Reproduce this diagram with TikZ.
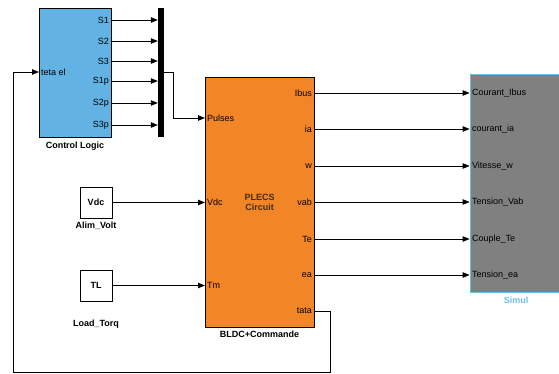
\documentclass[tikz,border=0pt]{standalone}
\usepackage{fontspec}
\setmainfont{Liberation Sans}
\usetikzlibrary{arrows.meta, positioning}

\definecolor{clblue}{RGB}{98,178,228}
\definecolor{plorange}{RGB}{242,134,38}
\definecolor{simgray}{RGB}{128,128,128}
\definecolor{simcyan}{RGB}{110,190,225}

\begin{document}
\begin{tikzpicture}[x=1pt, y=-1pt, font=\fontsize{9}{10}\selectfont,
  blk/.style={draw, line width=0.8pt, inner sep=0pt},
  sig/.style={line width=0.8pt, -{Triangle[length=7pt,width=5.5pt]}},
  lbl/.style={font=\fontsize{9}{10}\selectfont\bfseries}]
\useasboundingbox (0,0) rectangle (559,374);
% blocks
\node[blk, fill=clblue, minimum width=72pt, minimum height=129pt] (CL) at (75,72.5) {};
\node[fill=black, inner sep=0pt, minimum width=6pt, minimum height=129pt] (MUX) at (161,72.5) {};
\node[blk, fill=plorange, minimum width=109pt, minimum height=250pt] (PLECS) at (259.5,202) {};
\node[blk, lbl, minimum width=32pt, minimum height=31pt] (VDC) at (96,202.5) {Vdc};
\node[blk, lbl, minimum width=32pt, minimum height=31pt] (TL) at (96,285.5) {TL};
\node[blk, draw=simcyan, fill=simgray, minimum width=92pt, minimum height=218pt] (SIM) at (516,183) {};
\node[lbl, align=center, text=black!65!brown] at (PLECS.center) {PLECS\\Circuit};
% block names
\node[lbl, below=1pt of CL] {Control Logic};
\node[lbl, below=0pt of VDC] {Alim\_Volt};
\node[lbl, below=15pt of TL] {Load\_Torq};
\node[lbl, below=0pt of PLECS] {BLDC+Commande};
\node[lbl, text=simcyan, below=1pt of SIM] {Simul};
% control logic ports
\coordinate (S1) at (111,20);
\coordinate (S2) at (111,41);
\coordinate (S3) at (111,61);
\coordinate (S1p) at (111,81);
\coordinate (S2p) at (111,103);
\coordinate (S3p) at (111,125);
\coordinate (TH) at (39,72);
\node[left, inner sep=2pt] at (S1) {S1};
\node[left, inner sep=2pt] at (S2) {S2};
\node[left, inner sep=2pt] at (S3) {S3};
\node[left, inner sep=2pt] at (S1p) {S1p};
\node[left, inner sep=2pt] at (S2p) {S2p};
\node[left, inner sep=2pt] at (S3p) {S3p};
\node[right, inner sep=2pt] at (TH) {teta el};
\draw[sig] (S1) -- (S1 -| MUX.west);
\draw[sig] (S2) -- (S2 -| MUX.west);
\draw[sig] (S3) -- (S3 -| MUX.west);
\draw[sig] (S1p) -- (S1p -| MUX.west);
\draw[sig] (S2p) -- (S2p -| MUX.west);
\draw[sig] (S3p) -- (S3p -| MUX.west);
% plecs inputs
\coordinate (PUL) at (205,118);
\coordinate (VIN) at (205,202.5);
\coordinate (TM) at (205,285.5);
\node[right, inner sep=2pt] at (PUL) {Pulses};
\node[right, inner sep=2pt] at (VIN) {Vdc};
\node[right, inner sep=2pt] at (TM) {Tm};
\draw[sig] (MUX.east) -- ++(9,0) |- (PUL);
\draw[sig] (VDC.east) -- (VIN);
\draw[sig] (TL.east) -- (TM);
% plecs outputs
\coordinate (IB) at (314,93);
\coordinate (IA) at (314,129);
\coordinate (W) at (314,166);
\coordinate (VAB) at (314,202);
\coordinate (TE) at (314,239);
\coordinate (EA) at (314,275);
\coordinate (TATA) at (314,311);
\node[left, inner sep=2pt] at (IB) {Ibus};
\node[left, inner sep=2pt] at (IA) {ia};
\node[left, inner sep=2pt] at (W) {w};
\node[left, inner sep=2pt] at (VAB) {vab};
\node[left, inner sep=2pt] at (TE) {Te};
\node[left, inner sep=2pt] at (EA) {ea};
\node[left, inner sep=2pt] at (TATA) {tata};
\draw[sig] (IB) -- (IB -| SIM.west) node[right, inner sep=2pt] {Courant\_Ibus};
\draw[sig] (IA) -- (IA -| SIM.west) node[right, inner sep=2pt] {courant\_ia};
\draw[sig] (W) -- (W -| SIM.west) node[right, inner sep=2pt] {Vitesse\_w};
\draw[sig] (VAB) -- (VAB -| SIM.west) node[right, inner sep=2pt] {Tension\_Vab};
\draw[sig] (TE) -- (TE -| SIM.west) node[right, inner sep=2pt] {Couple\_Te};
\draw[sig] (EA) -- (EA -| SIM.west) node[right, inner sep=2pt] {Tension\_ea};
% feedback
\coordinate (FBa) at (330,372);
\coordinate (FBb) at (13,372);
\draw[sig] (TATA) -| (FBa) -- (FBb) |- (TH);
\end{tikzpicture}
\end{document}
